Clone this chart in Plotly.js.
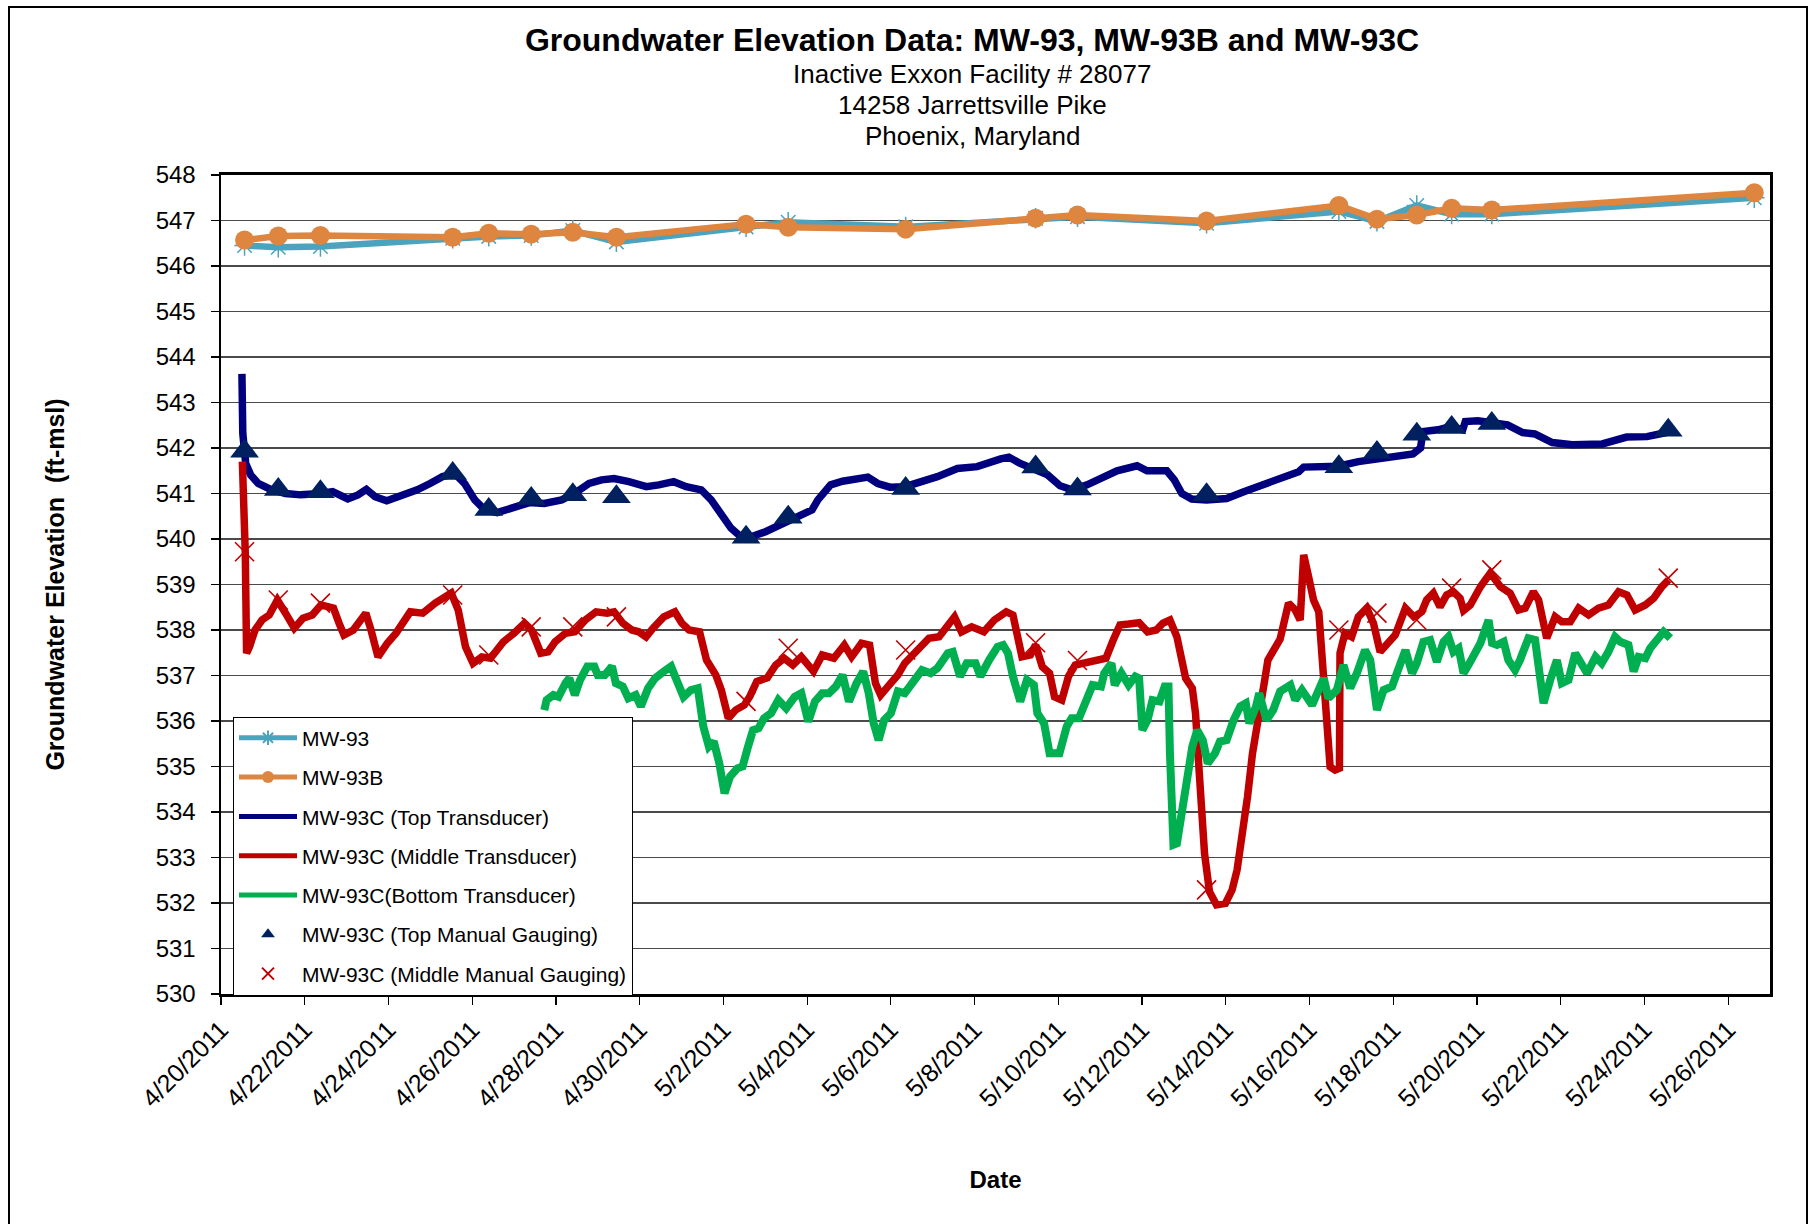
<!DOCTYPE html>
<html>
<head>
<meta charset="utf-8">
<script src="https://cdn.plot.ly/plotly-3.0.1.min.js"></script>
<style>
  html, body { margin: 0; padding: 0; background: #ffffff; }
  #chart { position: absolute; left: 0; top: 0; width: 1808px; height: 1224px; }
  #frame { position: absolute; left: 8px; top: 6px; width: 1796px; height: 1240px;
           border: 2px solid #000; pointer-events: none; z-index: 5; }
</style>
</head>
<body>
<div id="chart"></div>
<div id="frame"></div>
<script>
// ---------------- Manual gauging dates ----------------
var wellDates = ["2011-04-20 13:30","2011-04-21 08:50","2011-04-22 09:00","2011-04-25 12:50","2011-04-26 09:30",
  "2011-04-27 09:50","2011-04-28 09:40","2011-04-29 10:40","2011-05-02 13:00","2011-05-03 13:10",
  "2011-05-06 08:30","2011-05-09 11:00","2011-05-10 11:00","2011-05-13 13:00","2011-05-16 16:50",
  "2011-05-17 14:40","2011-05-18 13:30","2011-05-19 09:30","2011-05-20 08:30","2011-05-26 15:00"];
var mw93 = [546.45,546.41,546.43,546.61,546.65,546.67,546.78,546.53,546.86,546.96,
  546.86,547.05,547.08,546.94,547.20,546.98,547.33,547.14,547.14,547.50];
var mw93b = [546.57,546.66,546.67,546.63,546.72,546.70,546.74,546.63,546.92,546.85,
  546.81,547.05,547.12,546.99,547.33,547.03,547.12,547.27,547.23,547.61];

var gaugeDates = ["2011-04-20 13:30","2011-04-21 08:50","2011-04-22 09:00","2011-04-25 12:50","2011-04-26 09:30",
  "2011-04-27 09:50","2011-04-28 09:40","2011-04-29 10:40","2011-05-02 13:00","2011-05-03 13:10",
  "2011-05-06 08:30","2011-05-09 11:00","2011-05-10 11:00","2011-05-13 13:00","2011-05-16 16:50",
  "2011-05-17 14:40","2011-05-18 13:30","2011-05-19 09:30","2011-05-20 08:30","2011-05-24 13:40"];
var topManual = [541.93,541.09,541.04,541.44,540.65,540.89,540.97,540.93,540.04,540.48,
  541.11,541.58,541.10,540.97,541.59,541.90,542.30,542.45,542.54,542.39];
var midManual = [539.72,538.66,538.59,538.77,537.45,538.07,538.07,538.29,536.43,537.60,
  537.56,537.72,537.33,532.29,538.00,538.37,538.22,538.92,539.32,539.14];

// ---------------- Top transducer ----------------
var topDates = ["2011-04-20 12:00","2011-04-20 12:30","2011-04-20 14:10","2011-04-20 17:00","2011-04-20 21:20",
"2011-04-21 04:30","2011-04-21 13:00","2011-04-21 21:40","2011-04-22 09:10","2011-04-22 16:00",
"2011-04-23 00:40","2011-04-23 06:30","2011-04-23 11:20","2011-04-23 16:20","2011-04-23 23:00",
"2011-04-24 06:40","2011-04-24 16:30","2011-04-24 23:50","2011-04-25 07:00","2011-04-25 14:10",
"2011-04-25 19:40","2011-04-26 01:30","2011-04-26 07:10","2011-04-26 14:20","2011-04-27 00:10",
"2011-04-27 08:50","2011-04-27 17:20","2011-04-28 03:20","2011-04-28 10:30","2011-04-28 19:00",
"2011-04-29 02:10","2011-04-29 09:20","2011-04-29 17:50","2011-04-30 03:50","2011-04-30 11:00",
"2011-04-30 19:30","2011-05-01 02:40","2011-05-01 11:20","2011-05-01 17:00","2011-05-01 22:30",
"2011-05-02 04:20","2011-05-02 10:00","2011-05-02 15:50","2011-05-03 00:10","2011-05-03 10:20",
"2011-05-03 18:40","2011-05-04 02:50","2011-05-04 06:10","2011-05-04 13:30","2011-05-04 20:20",
"2011-05-05 05:00","2011-05-05 10:50","2011-05-05 16:30","2011-05-05 23:30","2011-05-06 08:10",
"2011-05-06 18:10","2011-05-07 02:40","2011-05-07 14:10","2011-05-08 01:30","2011-05-08 15:00",
"2011-05-08 19:40","2011-05-09 02:10","2011-05-09 10:30","2011-05-09 17:50","2011-05-10 01:00",
"2011-05-10 07:50","2011-05-10 16:30","2011-05-11 01:10","2011-05-11 09:40","2011-05-11 21:10",
"2011-05-12 02:50","2011-05-12 14:10","2011-05-12 18:30","2011-05-12 22:50","2011-05-13 04:30",
"2011-05-13 13:00","2011-05-14 00:30","2011-05-14 10:20","2011-05-15 00:40","2011-05-15 09:10",
"2011-05-15 17:50","2011-05-15 20:40","2011-05-16 05:20","2011-05-16 16:30","2011-05-17 04:00",
"2011-05-17 15:20","2011-05-18 02:50","2011-05-18 11:20","2011-05-18 15:40","2011-05-18 17:00",
"2011-05-19 01:40","2011-05-19 08:50","2011-05-19 15:50","2011-05-19 17:20","2011-05-20 00:30",
"2011-05-20 08:50","2011-05-20 17:30","2011-05-21 02:10","2011-05-21 09:10","2011-05-21 19:10",
"2011-05-22 06:40","2011-05-22 23:50","2011-05-23 13:50","2011-05-24 01:30","2011-05-24 12:40"];
var topVals = [543.63,542.32,541.66,541.41,541.22,
541.09,541.00,540.97,541.00,541.04,
540.88,540.97,541.09,540.93,540.84,
540.93,541.08,541.22,541.37,541.43,
541.22,540.86,540.64,540.58,540.71,
540.80,540.78,540.86,541.00,541.22,
541.30,541.33,541.26,541.15,541.19,
541.26,541.15,541.08,540.86,540.56,
540.24,540.05,540.05,540.16,540.34,
540.53,540.64,540.86,541.19,541.27,
541.31,541.36,541.22,541.14,541.15,
541.26,541.37,541.55,541.59,541.76,
541.80,541.66,541.53,541.41,541.17,
541.08,541.19,541.33,541.50,541.61,
541.50,541.50,541.30,541.00,540.88,
540.86,540.89,541.04,541.26,541.36,
541.48,541.58,541.58,541.60,541.70,
541.77,541.80,541.87,542.00,542.36,
542.40,542.47,542.40,542.58,542.60,
542.56,542.51,542.34,542.31,542.12,
542.07,542.09,542.24,542.25,542.34];

// ---------------- Middle transducer ----------------
var midDates = ["2011-04-20 12:15","2011-04-20 13:55","2011-04-20 14:40","2011-04-20 16:20","2011-04-20 19:30",
"2011-04-20 23:30","2011-04-21 03:40","2011-04-21 08:20","2011-04-21 13:00","2011-04-21 18:00",
"2011-04-21 23:00","2011-04-22 04:20","2011-04-22 09:20","2011-04-22 16:30","2011-04-22 19:40",
"2011-04-22 22:30","2011-04-23 03:50","2011-04-23 11:00","2011-04-23 14:00","2011-04-23 18:00",
"2011-04-23 23:20","2011-04-24 04:20","2011-04-24 12:30","2011-04-24 19:40","2011-04-25 02:50",
"2011-04-25 12:00","2011-04-25 16:00","2011-04-25 20:10","2011-04-26 00:30","2011-04-26 05:30",
"2011-04-26 10:30","2011-04-26 17:50","2011-04-27 00:00","2011-04-27 06:00","2011-04-27 10:00",
"2011-04-27 15:20","2011-04-27 19:30","2011-04-27 23:30","2011-04-28 05:30","2011-04-28 10:50",
"2011-04-28 16:50","2011-04-28 23:00","2011-04-29 05:20","2011-04-29 09:20","2011-04-29 14:20",
"2011-04-29 19:30","2011-04-29 23:30","2011-04-30 03:40","2011-04-30 07:40","2011-04-30 13:50",
"2011-04-30 20:10","2011-05-01 00:10","2011-05-01 04:20","2011-05-01 10:20","2011-05-01 14:20",
"2011-05-01 19:40","2011-05-01 22:50","2011-05-02 02:50","2011-05-02 07:00","2011-05-02 12:00",
"2011-05-02 15:10","2011-05-02 19:10","2011-05-03 01:10","2011-05-03 06:00","2011-05-03 10:50",
"2011-05-03 15:50","2011-05-03 20:40","2011-05-04 03:40","2011-05-04 08:40","2011-05-04 15:20",
"2011-05-04 21:20","2011-05-05 01:30","2011-05-05 07:10","2011-05-05 11:50","2011-05-05 15:10",
"2011-05-05 18:10","2011-05-05 23:00","2011-05-06 04:00","2011-05-06 08:00","2011-05-06 14:00",
"2011-05-06 21:50","2011-05-07 03:40","2011-05-07 08:40","2011-05-07 12:30","2011-05-07 16:30",
"2011-05-07 22:20","2011-05-08 05:20","2011-05-08 11:20","2011-05-08 18:10","2011-05-08 22:00",
"2011-05-09 03:10","2011-05-09 08:00","2011-05-09 11:00","2011-05-09 14:50","2011-05-09 19:00",
"2011-05-09 21:50","2011-05-10 02:00","2011-05-10 05:50","2011-05-10 09:40","2011-05-10 15:40",
"2011-05-10 21:40","2011-05-11 03:20","2011-05-11 07:30","2011-05-11 11:20","2011-05-11 16:20",
"2011-05-11 22:20","2011-05-12 03:10","2011-05-12 08:10","2011-05-12 12:00","2011-05-12 16:00",
"2011-05-12 20:00","2011-05-13 01:00","2011-05-13 04:50","2011-05-13 06:40","2011-05-13 08:50",
"2011-05-13 11:50","2011-05-13 14:40","2011-05-13 18:40","2011-05-13 23:50","2011-05-14 03:40",
"2011-05-14 06:30","2011-05-14 09:20","2011-05-14 12:30","2011-05-14 15:20","2011-05-14 19:10",
"2011-05-14 22:20","2011-05-15 00:10","2011-05-15 04:20","2011-05-15 07:10","2011-05-15 12:00",
"2011-05-15 15:50","2011-05-15 18:40","2011-05-15 20:40","2011-05-15 23:30","2011-05-16 02:20",
"2011-05-16 05:20","2011-05-16 07:10","2011-05-16 09:10","2011-05-16 11:50","2011-05-16 14:40",
"2011-05-16 17:10","2011-05-16 17:30","2011-05-16 20:20","2011-05-17 00:10","2011-05-17 04:00",
"2011-05-17 08:50","2011-05-17 12:40","2011-05-17 16:30","2011-05-17 21:20","2011-05-18 01:10",
"2011-05-18 07:00","2011-05-18 11:50","2011-05-18 16:20","2011-05-18 19:10","2011-05-18 23:00",
"2011-05-19 02:50","2011-05-19 06:40","2011-05-19 10:30","2011-05-19 14:20","2011-05-19 16:20",
"2011-05-19 20:10","2011-05-20 02:00","2011-05-20 07:40","2011-05-20 13:30","2011-05-20 19:00",
"2011-05-20 23:50","2011-05-21 03:40","2011-05-21 08:20","2011-05-21 11:20","2011-05-21 16:00",
"2011-05-21 20:50","2011-05-22 00:40","2011-05-22 05:30","2011-05-22 10:20","2011-05-22 16:00",
"2011-05-22 21:40","2011-05-23 03:20","2011-05-23 09:10","2011-05-23 14:00","2011-05-23 18:40",
"2011-05-24 00:30","2011-05-24 05:20","2011-05-24 10:00","2011-05-24 13:50"];
var midVals = [541.70,539.69,537.49,537.63,538.00,
538.22,538.33,538.66,538.37,538.04,
538.26,538.33,538.55,538.48,538.15,
537.89,538.00,538.37,538.00,537.41,
537.71,537.93,538.40,538.37,538.59,
538.81,538.44,537.63,537.27,537.41,
537.38,537.74,537.93,538.15,538.00,
537.49,537.52,537.74,537.93,537.96,
538.22,538.40,538.37,538.40,538.15,
538.00,537.96,537.85,538.04,538.29,
538.40,538.15,538.00,537.96,537.34,
537.01,536.68,536.06,536.24,536.35,
536.54,536.87,536.95,537.23,537.38,
537.23,537.41,537.09,537.45,537.38,
537.67,537.41,537.71,537.67,536.83,
536.57,536.79,537.01,537.27,537.49,
537.82,537.85,538.11,538.29,537.96,
538.07,537.96,538.22,538.40,538.33,
537.41,537.45,537.67,537.19,537.05,
536.53,536.46,536.98,537.23,537.27,
537.34,537.38,537.78,538.11,538.13,
538.16,537.96,538.00,538.15,538.22,
537.85,536.94,536.72,536.17,534.85,
533.09,532.25,531.96,531.99,532.29,
532.73,533.46,534.34,535.29,536.32,
536.90,537.34,537.60,537.80,538.59,
538.44,538.22,539.65,539.17,538.66,
538.40,537.34,536.02,534.99,534.92,
534.96,537.49,537.93,537.85,538.29,
538.48,538.15,537.52,537.71,537.89,
538.48,538.29,538.40,538.66,538.81,
538.51,538.77,538.84,538.70,538.43,
538.55,538.95,539.25,538.95,538.81,
538.44,538.48,538.84,538.66,537.82,
538.29,538.18,538.18,538.48,538.33,
538.48,538.55,538.84,538.77,538.44,
538.55,538.70,538.95,539.10];

// ---------------- Bottom transducer ----------------
var botDates = ["2011-04-27 17:20","2011-04-27 18:40","2011-04-27 22:30","2011-04-28 01:30","2011-04-28 05:30",
"2011-04-28 07:40","2011-04-28 10:50","2011-04-28 13:50","2011-04-28 18:00","2011-04-28 22:00",
"2011-04-29 00:00","2011-04-29 04:00","2011-04-29 08:10","2011-04-29 10:20","2011-04-29 14:20",
"2011-04-29 17:30","2011-04-29 21:40","2011-04-30 00:40","2011-04-30 04:50","2011-04-30 08:50",
"2011-04-30 13:50","2011-04-30 18:00","2011-04-30 21:10","2011-05-01 01:10","2011-05-01 05:20",
"2011-05-01 09:20","2011-05-01 12:30","2011-05-01 15:40","2011-05-01 18:30","2011-05-01 21:40",
"2011-05-02 00:40","2011-05-02 03:50","2011-05-02 08:00","2011-05-02 11:00","2011-05-02 14:10",
"2011-05-02 17:00","2011-05-02 20:10","2011-05-02 23:20","2011-05-03 03:20","2011-05-03 07:30",
"2011-05-03 12:00","2011-05-03 16:50","2011-05-03 20:40","2011-05-04 00:40","2011-05-04 04:30",
"2011-05-04 08:40","2011-05-04 12:30","2011-05-04 16:30","2011-05-04 20:20","2011-05-05 00:00",
"2011-05-05 04:20","2011-05-05 08:10","2011-05-05 11:20","2011-05-05 14:10","2011-05-05 17:00",
"2011-05-05 20:10","2011-05-06 00:00","2011-05-06 04:00","2011-05-06 08:00","2011-05-06 12:00",
"2011-05-06 17:50","2011-05-06 22:50","2011-05-07 02:40","2011-05-07 08:40","2011-05-07 11:30",
"2011-05-07 15:40","2011-05-07 19:30","2011-05-08 00:30","2011-05-08 03:20","2011-05-08 08:20",
"2011-05-08 13:10","2011-05-08 16:20","2011-05-08 19:10","2011-05-08 22:00","2011-05-09 02:10",
"2011-05-09 06:00","2011-05-09 10:00","2011-05-09 12:00","2011-05-09 15:50","2011-05-09 19:00",
"2011-05-10 00:40","2011-05-10 04:50","2011-05-10 07:40","2011-05-10 11:50","2011-05-10 15:40",
"2011-05-10 19:40","2011-05-11 00:30","2011-05-11 02:20","2011-05-11 06:30","2011-05-11 08:20",
"2011-05-11 12:10","2011-05-11 16:20","2011-05-11 20:10","2011-05-11 22:20","2011-05-12 00:10",
"2011-05-12 03:10","2011-05-12 06:00","2011-05-12 10:00","2011-05-12 13:00","2011-05-12 15:10",
"2011-05-12 16:00","2011-05-12 18:00","2011-05-12 20:00","2011-05-12 23:00","2011-05-13 02:00",
"2011-05-13 04:50","2011-05-13 07:40","2011-05-13 10:50","2011-05-13 13:40","2011-05-13 17:50",
"2011-05-13 20:40","2011-05-14 00:30","2011-05-14 04:30","2011-05-14 08:20","2011-05-14 11:30",
"2011-05-14 13:30","2011-05-14 17:20","2011-05-14 19:10","2011-05-14 23:20","2011-05-15 03:10",
"2011-05-15 07:10","2011-05-15 13:00","2011-05-15 15:50","2011-05-15 19:40","2011-05-16 01:30",
"2011-05-16 05:20","2011-05-16 08:10","2011-05-16 10:50","2011-05-16 15:40","2011-05-16 19:30",
"2011-05-16 23:20","2011-05-17 03:10","2011-05-17 07:50","2011-05-17 10:50","2011-05-17 14:40",
"2011-05-17 18:30","2011-05-17 23:20","2011-05-18 03:10","2011-05-18 07:00","2011-05-18 10:50",
"2011-05-18 13:30","2011-05-18 17:20","2011-05-18 21:10","2011-05-19 01:00","2011-05-19 04:50",
"2011-05-19 07:40","2011-05-19 10:30","2011-05-19 13:30","2011-05-19 16:20","2011-05-19 20:10",
"2011-05-20 02:00","2011-05-20 06:40","2011-05-20 08:40","2011-05-20 11:30","2011-05-20 15:20",
"2011-05-20 18:00","2011-05-20 21:50","2011-05-21 00:40","2011-05-21 05:30","2011-05-21 09:20",
"2011-05-21 14:10","2011-05-21 18:00","2011-05-21 21:50","2011-05-22 00:40","2011-05-22 04:30",
"2011-05-22 08:20","2011-05-22 11:20","2011-05-22 15:10","2011-05-22 20:00","2011-05-22 23:30",
"2011-05-23 03:20","2011-05-23 07:10","2011-05-23 10:10","2011-05-23 14:50","2011-05-23 17:50",
"2011-05-23 20:40","2011-05-24 00:30","2011-05-24 03:20","2011-05-24 07:10","2011-05-24 11:00",
"2011-05-24 14:50"];
var botVals = [536.24,536.46,536.57,536.53,536.83,
536.94,536.57,536.90,537.20,537.20,
537.01,537.01,537.20,536.83,536.76,
536.50,536.57,536.32,536.72,536.94,
537.09,537.20,536.90,536.53,536.68,
536.72,535.88,535.44,535.55,535.07,
534.41,534.78,534.96,535.00,535.44,
535.80,535.84,536.06,536.17,536.46,
536.28,536.53,536.61,535.99,536.43,
536.61,536.61,536.76,537.01,536.43,
536.83,537.09,536.61,535.95,535.58,
536.02,536.17,536.65,536.61,536.83,
537.12,537.05,537.16,537.49,537.52,
536.98,537.27,537.27,536.98,537.34,
537.63,537.67,537.49,536.98,536.43,
536.90,536.79,536.17,535.95,535.29,
535.29,535.88,536.06,536.06,536.43,
536.79,536.76,537.05,537.27,536.79,
537.05,536.79,536.98,536.94,535.80,
536.02,536.46,536.43,536.76,536.76,
535.29,533.28,533.31,533.97,534.85,
535.44,535.80,535.58,535.07,535.29,
535.55,535.58,536.02,536.32,536.39,
535.95,536.32,536.61,536.02,536.24,
536.65,536.79,536.46,536.68,536.35,
536.68,536.94,536.50,536.68,537.23,
536.72,537.05,537.56,537.34,536.24,
536.68,536.76,537.16,537.56,537.05,
537.27,537.74,537.78,537.30,537.74,
537.85,537.52,537.60,537.05,537.30,
537.71,538.22,537.71,537.67,537.74,
537.34,537.12,537.34,537.82,537.78,
536.39,536.90,537.34,536.83,536.90,
537.49,537.27,537.05,537.41,537.27,
537.52,537.85,537.74,537.67,537.09,
537.41,537.38,537.60,537.78,537.96,
537.82];

// ---------------- Labels ----------------
var seriesNames = ["MW-93","MW-93B","MW-93C (Top Transducer)","MW-93C (Middle Transducer)",
  "MW-93C(Bottom Transducer)","MW-93C (Top Manual Gauging)","MW-93C (Middle Manual Gauging)"];
var chartTitle = "Groundwater Elevation Data: MW-93, MW-93B and MW-93C";
var subTitles = ["Inactive Exxon Facility # 28077","14258 Jarrettsville Pike","Phoenix, Maryland"];
var xTitle = "Date";
var yTitle = "Groundwater Elevation\u00a0 (ft-msl)";

var FONT = "Arial, 'Liberation Sans', sans-serif";

var traces = [
  {x: wellDates, y: mw93, name: seriesNames[0], type: "scatter", mode: "lines+markers", legendgroup: "g1",
   line: {color: "#4BA3BD", width: 6.5},
   marker: {symbol: "asterisk-open", size: 17, color: "#4BA3BD", line: {color: "#4BA3BD", width: 1.5}}},
  {x: wellDates, y: mw93b, name: seriesNames[1], type: "scatter", mode: "lines+markers", legendgroup: "g2",
   line: {color: "#DE8540", width: 6.5},
   marker: {symbol: "circle", size: 19, color: "#DE8540"}},
  {x: topDates, y: topVals, name: seriesNames[2], type: "scatter", mode: "lines", legendgroup: "g3",
   line: {color: "#00007F", width: 7.5}},
  {x: midDates, y: midVals, name: seriesNames[3], type: "scatter", mode: "lines", legendgroup: "g4",
   line: {color: "#C00000", width: 7.5}},
  {x: botDates, y: botVals, name: seriesNames[4], type: "scatter", mode: "lines", legendgroup: "g5",
   line: {color: "#00B050", width: 8}},
  {x: gaugeDates, y: topManual, name: seriesNames[5], type: "scatter", mode: "markers", legendgroup: "g6",
   marker: {symbol: "triangle-up", size: 25, color: "#002060"}},
  {x: gaugeDates, y: midManual, name: seriesNames[6], type: "scatter", mode: "markers", legendgroup: "g7",
   marker: {symbol: "x-thin-open", size: 19, color: "#C00000", line: {color: "#C00000", width: 1.6}}}
];

var L = 221, R = 38, T = 175, B = 230;
var plotH = 1224 - T - B, plotW = 1808 - L - R;
function py(Y) { return (1224 - B - Y) / plotH; }

var annotations = subTitles.map(function (s, i) {
  return {text: s, xref: "paper", yref: "paper", x: (972 - L) / plotW, y: py([74, 105, 136][i]),
          xanchor: "center", yanchor: "middle", showarrow: false,
          font: {family: FONT, size: 26, color: "#000"}};
});

var layout = {
  width: 1808, height: 1224,
  margin: {l: L, r: R, t: T, b: B},
  paper_bgcolor: "rgba(0,0,0,0)", plot_bgcolor: "#ffffff",
  font: {family: FONT, color: "#000"},
  showlegend: true,
  title: {text: chartTitle, x: 972 / 1808, xref: "container", xanchor: "center",
          y: 1 - 40 / 1224, yref: "container", yanchor: "middle",
          font: {family: FONT, size: 32, color: "#000", weight: "bold"}},
  annotations: annotations,
  xaxis: {
    type: "date", range: ["2011-04-20", "2011-05-27"],
    tick0: "2011-04-20", dtick: 2 * 86400000, tickformat: "%-m/%-d/%Y",
    tickangle: -45, tickfont: {family: FONT, size: 25, color: "#000"},
    ticks: "outside", ticklen: 8, tickwidth: 1.2, tickcolor: "#000",
    showgrid: false, zeroline: false,
    showline: true, linecolor: "#000", linewidth: 3, mirror: true,
    automargin: false,
    title: {text: xTitle, standoff: 60, font: {family: FONT, size: 24, color: "#000", weight: "bold"}}
  },
  yaxis: {
    range: [530, 548], dtick: 1, tick0: 530,
    tickfont: {family: FONT, size: 24, color: "#000"},
    ticks: "outside", ticklen: 8, tickwidth: 1.2, tickcolor: "#000", ticklabelstandoff: 10,
    showgrid: true, gridcolor: "#4a4a4a", gridwidth: 1.3, zeroline: false,
    showline: true, linecolor: "#000", linewidth: 2.5, mirror: true,
    automargin: false,
    title: {text: yTitle, standoff: 84, font: {family: FONT, size: 25, color: "#000", weight: "bold"}}
  },
  legend: {
    x: (233 - L) / plotW, xanchor: "left", y: -0.002, yanchor: "bottom",
    bgcolor: "#ffffff", bordercolor: "#000", borderwidth: 1,
    font: {family: FONT, size: 21, color: "#000"},
    tracegroupgap: 9, itemwidth: 58, itemsizing: "constant", traceorder: "grouped"
  }
};

Plotly.newPlot("chart", traces, layout, {displayModeBar: false, staticPlot: true});
</script>
</body>
</html>
